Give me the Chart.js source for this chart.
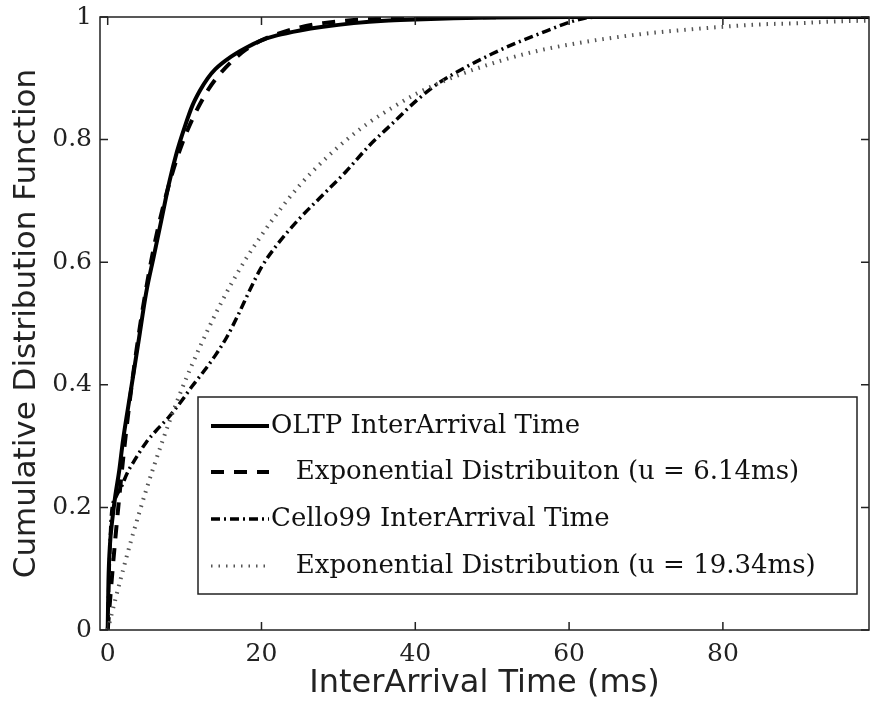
<!DOCTYPE html>
<html>
<head>
<meta charset="utf-8">
<script src="https://cdn.jsdelivr.net/npm/chart.js@4/dist/chart.umd.min.js"></script>
<style>
  html, body { margin: 0; padding: 0; background: #fff; }
  #wrap { width: 871px; height: 704px; }
</style>
</head>
<body>
<div id="wrap"><canvas id="cdf" width="871" height="704"></canvas></div>
<script>
// Axis ticks
const xTicks = [0, 20, 40, 60, 80];
const yTicks = [0, 0.2, 0.4, 0.6, 0.8, 1];

// OLTP trace: measured inter-arrival CDF
const oltpTime = [0, 0.1, 0.3, 0.6, 1, 1.5, 2, 3, 4, 5, 6, 7, 8, 9, 10, 11, 12, 13, 14, 16, 18, 20, 22, 25, 28, 32, 36, 40, 45, 50, 60, 99];
const oltpCdf  = [0, 0.08, 0.14, 0.18, 0.22, 0.26, 0.31, 0.39, 0.47, 0.55, 0.61, 0.67, 0.73, 0.78, 0.82, 0.855, 0.88, 0.9, 0.915, 0.935, 0.95, 0.962, 0.97, 0.978, 0.984, 0.99, 0.994, 0.996, 0.998, 0.999, 1, 1];

// Exponential fit, mean 6.14 ms
const expOltpTime = [0, 0.5, 1, 2, 3, 4, 5, 6, 7, 8, 9, 10, 11, 12, 13, 14, 16, 18, 20, 22, 25, 28, 32, 36, 40, 50, 60, 99];
const expOltpCdf  = [0, 0.078, 0.15, 0.278, 0.387, 0.479, 0.557, 0.624, 0.68, 0.728, 0.769, 0.804, 0.833, 0.858, 0.88, 0.898, 0.926, 0.947, 0.962, 0.972, 0.983, 0.99, 0.995, 0.997, 0.9985, 0.9997, 1, 1];

// Cello99 trace: measured inter-arrival CDF
const celloTime = [0, 0.2, 0.5, 1, 1.9, 2.5, 3.5, 5, 6.5, 8, 9.5, 11, 12.5, 14, 15.5, 17, 18.5, 20, 22, 25, 28, 31, 34, 37, 40, 43, 46.7, 50, 53, 56, 59.7, 62, 64, 99];
const celloCdf  = [0, 0.1, 0.19, 0.215, 0.237, 0.255, 0.277, 0.306, 0.328, 0.348, 0.372, 0.398, 0.422, 0.448, 0.478, 0.515, 0.555, 0.592, 0.628, 0.672, 0.71, 0.748, 0.79, 0.826, 0.862, 0.892, 0.919, 0.94, 0.957, 0.972, 0.99, 0.998, 1, 1];

// Exponential fit, mean 19.34 ms
const expCelloTime = [0, 1, 2, 3, 4, 5, 6, 8, 10, 12, 14, 16, 18, 20, 22, 25, 28, 31, 34, 37, 40, 44, 48, 52, 56, 60, 65, 70, 75, 80, 85, 90, 95, 99];
const expCelloCdf  = [0, 0.05, 0.098, 0.144, 0.187, 0.228, 0.267, 0.339, 0.404, 0.462, 0.515, 0.563, 0.606, 0.644, 0.679, 0.726, 0.765, 0.799, 0.828, 0.852, 0.874, 0.897, 0.916, 0.932, 0.945, 0.955, 0.965, 0.973, 0.979, 0.984, 0.988, 0.99, 0.993, 0.994];

const seriesLabels = [
  'OLTP InterArrival Time',
  '   Exponential Distribuiton (u = 6.14ms)',
  'Cello99 InterArrival Time',
  '   Exponential Distribution (u = 19.34ms)'
];

const toPoints = (xs, ys) => xs.map((v, i) => ({ x: v, y: ys[i] }));

// Line styles shared by the curves and the legend samples
const styles = [
  { color: '#000', width: 4, dash: [] },
  { color: '#000', width: 4, dash: [13, 10] },
  { color: '#000', width: 3.5, dash: [9, 4, 2, 4] },
  { color: '#555', width: 4, dash: [1.5, 6] }
];

const makeSet = (label, pts, st) => ({
  label,
  data: pts,
  showLine: true,
  borderColor: st.color,
  borderWidth: st.width,
  borderDash: st.dash,
  borderCapStyle: 'butt',
  pointRadius: 0,
  fill: false,
  cubicInterpolationMode: 'monotone'
});

// Box frame with inward tick marks on all four sides
const framePlugin = {
  id: 'frame',
  afterDatasetsDraw(chart) {
    const { ctx, chartArea: a, scales: { x, y } } = chart;
    ctx.save();
    ctx.strokeStyle = '#222';
    ctx.lineWidth = 1.5;
    ctx.strokeRect(a.left, a.top, a.right - a.left, a.bottom - a.top);
    ctx.beginPath();
    xTicks.forEach(v => {
      const p = x.getPixelForValue(v);
      ctx.moveTo(p, a.bottom); ctx.lineTo(p, a.bottom - 8);
      ctx.moveTo(p, a.top);    ctx.lineTo(p, a.top + 8);
    });
    yTicks.forEach(v => {
      const p = y.getPixelForValue(v);
      ctx.moveTo(a.left, p);  ctx.lineTo(a.left + 8, p);
      ctx.moveTo(a.right, p); ctx.lineTo(a.right - 8, p);
    });
    ctx.stroke();
    ctx.restore();
  }
};

// Boxed legend inside the lower-right of the plot
const legendPlugin = {
  id: 'boxLegend',
  afterDraw(chart) {
    const { ctx, chartArea: a } = chart;
    const L = a.left + 98, T = a.top + 380, R = a.right - 12, B = a.bottom - 36;
    ctx.save();
    ctx.fillStyle = '#fff';
    ctx.fillRect(L, T, R - L, B - T);
    ctx.strokeStyle = '#222';
    ctx.lineWidth = 1.5;
    ctx.strokeRect(L, T, R - L, B - T);
    const rows = [29, 75, 122, 169];
    rows.forEach((dy, i) => {
      const yy = T + dy;
      const st = styles[i];
      ctx.beginPath();
      ctx.setLineDash(st.dash);
      ctx.lineWidth = i === 3 ? 3 : st.width;
      ctx.strokeStyle = st.color;
      ctx.lineCap = 'butt';
      ctx.moveTo(L + 13, yy);
      ctx.lineTo(L + 71, yy);
      ctx.stroke();
      ctx.setLineDash([]);
      ctx.fillStyle = '#111';
      ctx.font = '26px "DejaVu Serif"';
      ctx.textBaseline = 'middle';
      ctx.textAlign = 'left';
      ctx.fillText(seriesLabels[i], L + 73, yy);
    });
    ctx.restore();
  }
};

const tickFont = { family: 'DejaVu Serif', size: 25 };

new Chart(document.getElementById('cdf'), {
  type: 'scatter',
  data: {
    datasets: [
      makeSet(seriesLabels[3], toPoints(expCelloTime, expCelloCdf), styles[3]),
      makeSet(seriesLabels[2], toPoints(celloTime, celloCdf), styles[2]),
      makeSet(seriesLabels[1], toPoints(expOltpTime, expOltpCdf), styles[1]),
      makeSet(seriesLabels[0], toPoints(oltpTime, oltpCdf), styles[0])
    ]
  },
  options: {
    responsive: false,
    animation: false,
    devicePixelRatio: 1,
    layout: { padding: { top: 17, right: 2, left: 0, bottom: 0 } },
    plugins: { legend: { display: false }, tooltip: { enabled: false } },
    scales: {
      x: {
        type: 'linear',
        min: -1,
        max: 99,
        afterBuildTicks: s => { s.ticks = xTicks.map(v => ({ value: v })); },
        afterFit: s => { s.height = 74; s.paddingLeft = 0; s.paddingRight = 0; },
        grid: { display: false, drawTicks: false },
        border: { display: false },
        ticks: { padding: 9, color: '#222', font: tickFont, maxRotation: 0, autoSkip: false },
        title: { display: true, text: 'InterArrival Time (ms)', color: '#222', font: { family: 'DejaVu Sans', size: 32, lineHeight: 1.2 }, padding: { top: 0, bottom: 1 } }
      },
      y: {
        type: 'linear',
        min: 0,
        max: 1,
        afterBuildTicks: s => { s.ticks = yTicks.map(v => ({ value: v })); },
        afterFit: s => { s.width = 100; s.paddingTop = 0; s.paddingBottom = 0; },
        grid: { display: false, drawTicks: false },
        border: { display: false },
        ticks: { padding: 8, color: '#222', font: tickFont, callback: v => String(v) },
        title: { display: true, text: 'Cumulative Distribution Function', color: '#222', font: { family: 'DejaVu Sans', size: 31, lineHeight: 1.2 }, padding: { top: 8, bottom: 0 } }
      }
    }
  },
  plugins: [framePlugin, legendPlugin]
});
</script>
</body>
</html>
